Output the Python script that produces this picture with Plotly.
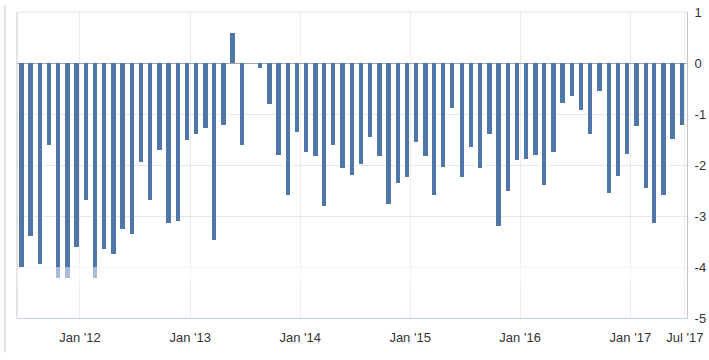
import pandas as pd
import plotly.graph_objects as go

# monthly observations (dated around the 21st of each month), Jun 2011 .. Jun 2017
start = pd.Timestamp("2011-06-21")
n_points = 73
dates = [start + pd.DateOffset(months=i) for i in range(n_points)]

values = [
    -4.0, -3.4, -3.94, -1.6, -4.22, -4.22, -3.6, -2.69, -4.22, -3.65, -3.75, -3.25,
    -3.35, -1.94, -2.69, -1.71, -3.13, -3.09, -1.5, -1.4, -1.27, -3.48, -1.21, 0.59,
    -1.6, None, -0.1, -0.8, -1.8, -2.59, -1.35, -1.75, -1.82, -2.81, -1.6, -2.06,
    -2.2, -1.98, -1.46, -1.82, -2.76, -2.36, -2.24, -1.54, -1.82, -2.59, -2.03, -0.88,
    -2.23, -1.65, -2.06, -1.39, -3.2, -2.5, -1.9, -1.89, -1.8, -2.39, -1.75, -0.78,
    -0.64, -0.92, -1.39, -0.54, -2.55, -2.21, -1.79, -1.23, -2.45, -3.14, -2.59, -1.49,
    -1.21,
]

x_tick_vals = ["2012-01-01", "2013-01-01", "2014-01-01", "2015-01-01",
               "2016-01-01", "2017-01-01", "2017-07-01"]
x_tick_text = ["Jan '12", "Jan '13", "Jan '14", "Jan '15", "Jan '16", "Jan '17", "Jul '17"]
y_tick_vals = [1, 0, -1, -2, -3, -4, -5]
y_tick_text = ["1", "0", "-1", "-2", "-3", "-4", "-5"]

BAR = "#4e76a8"
FONT = "Liberation Sans, Arial, sans-serif"

fig = go.Figure()
fig.add_trace(go.Bar(
    x=dates, y=values,
    marker=dict(color=BAR, line=dict(width=0)),
    width=1.24e9,
    hoverinfo="x+y",
))

fig.update_layout(
    width=709, height=360,
    margin=dict(l=17, r=22, t=12, b=42, autoexpand=False),
    paper_bgcolor="white", plot_bgcolor="white",
    showlegend=False,
    font=dict(family=FONT, size=13, color="#333333"),
    bargap=0,
    xaxis=dict(
        type="date",
        automargin=False,
        range=["2011-06-06", "2017-07-08"],
        tickvals=x_tick_vals, ticktext=x_tick_text,
        showgrid=True, gridcolor="#ececec", gridwidth=1,
        showline=True, linecolor="#c0d0e0", linewidth=1,
        ticks="outside", ticklen=7, tickcolor="rgba(0,0,0,0)",
        tickfont=dict(size=13, color="#333333"),
        zeroline=False,
        fixedrange=True,
    ),
    yaxis=dict(
        side="right",
        automargin=False,
        range=[-5, 1],
        tickvals=y_tick_vals, ticktext=y_tick_text,
        showgrid=True, gridcolor="#e8e8e8", gridwidth=1,
        zeroline=True, zerolinecolor="#a6a6a6", zerolinewidth=1,
        showline=True, linecolor="#c4c4c4", linewidth=1,
        ticks="outside", ticklen=4, tickcolor="rgba(0,0,0,0)",
        tickfont=dict(size=13, color="#333333"),
        fixedrange=True,
    ),
    shapes=[
        # left border of plot area
        dict(type="line", xref="paper", yref="paper", x0=0, x1=0, y0=0, y1=1,
             line=dict(color="#c8c8c8", width=1)),
        # top border of plot area
        dict(type="line", xref="paper", yref="paper", x0=0, x1=1, y0=1, y1=1,
             line=dict(color="#e2e2e2", width=1)),
        # faded band below -4
        dict(type="rect", xref="paper", yref="y", x0=0, x1=1, y0=-4.0, y1=-4.3,
             fillcolor="rgba(255,255,255,0.5)", line=dict(width=0), layer="above"),
        # outer page frame line at the far left
        dict(type="line", xref="paper", yref="paper", x0=-0.018, x1=-0.018,
             y0=-0.113, y1=1.023, line=dict(color="#c8c8c8", width=1)),
    ],
)

fig.write_html(
    "out.html",
    config={"displayModeBar": False},
    post_script="document.body.style.margin='0';document.body.style.overflow='hidden';",
)
